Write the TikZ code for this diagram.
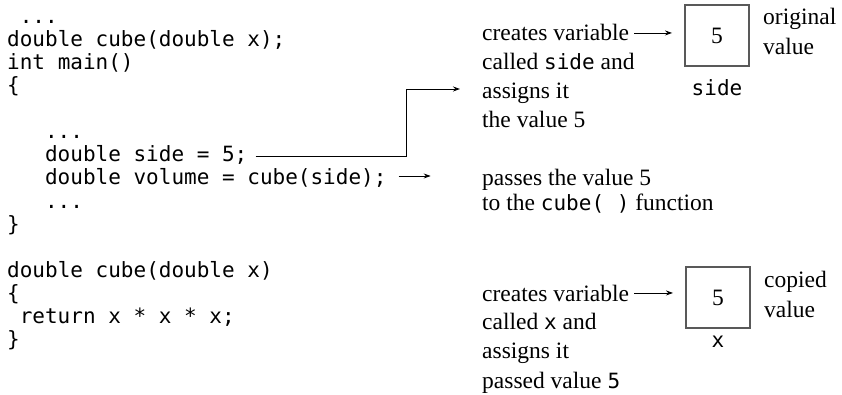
\documentclass[tikz,border=0pt]{standalone}
\usepackage{fontspec}
\setmainfont{Liberation Serif}
\setmonofont{DejaVu Sans Mono}
\usetikzlibrary{arrows.meta,positioning}
\newcommand\codefont{\fontsize{21}{23}\selectfont\ttfamily}
\newcommand\mono[1]{{\fontsize{21}{23}\selectfont\ttfamily #1}}
\tikzset{
codeline/.style={font=\codefont,anchor=base west,inner sep=0pt},
note/.style={font=\fontsize{23.5}{28}\selectfont,anchor=base west,inner sep=0pt},
varbox/.style={draw=black!65,line width=2pt,minimum width=64pt,minimum height=61pt,font=\fontsize{23.5}{28}\selectfont},
link/.style={-{Stealth[length=7pt,width=5pt]},line width=0.9pt}
}

\begin{document}
\begin{tikzpicture}[x=1pt,y=-1pt]
\useasboundingbox (0,0) rectangle (842,395);
% program text
\node[codeline] (c0) at (19.6,24) {...};
\node[codeline] (c1) at (7,47) {double cube(double x);};
\node[codeline] (c2) at (7,70) {int main()};
\node[codeline] (c3) at (7,93) {\{};
\node[codeline] (c5) at (44.9,139) {...};
\node[codeline] (cside) at (44.9,162) {double side = 5;};
\node[codeline] (cvol) at (44.9,185) {double volume = cube(side);};
\node[codeline] (c8) at (44.9,208) {...};
\node[codeline] (c9) at (7,231) {\}};
\node[codeline] (c11) at (7,277) {double cube(double x)};
\node[codeline] (c12) at (7,300) {\{};
\node[codeline] (cret) at (19.6,323) {return x * x * x;};
\node[codeline] (c14) at (7,346) {\}};
% notes
\node[note] (ta1) at (482,41) {creates variable};
\node[note] (ta2) at (482,70) {called \mono{side} and};
\node[note] (ta3) at (482,99) {assigns it};
\node[note] (ta4) at (482,128) {the value 5};
\node[note] (tp1) at (482,186) {passes the value 5};
\node[note] (tp2) at (482,211) {to the \mono{cube(\ )} function};
\node[note] (tb1) at (482,301) {creates variable};
\node[note] (tb2) at (482,329) {called \mono{x} and};
\node[note] (tb3) at (482,358) {assigns it};
\node[note] (tb4) at (482,388) {passed value \mono{5}};
% variables
\node[varbox] (box1) at (717,35.5) {5};
\node[varbox] (box2) at (718,297.5) {5};
\node[codeline,anchor=base] (sidename) at (717,96) {side};
\node[codeline,anchor=base] (xname) at (718,347) {x};
\node[note] (orig1) at (763,25) {original};
\node[note] (orig2) at (763,55) {value};
\node[note] (copy1) at (764,287) {copied};
\node[note] (copy2) at (764,317) {value};
% arrows
\coordinate (sidetip) at (460,89);
\coordinate (passtip) at ([xshift=44pt,yshift=9pt]cvol.base east);
\draw[link] ([xshift=8pt,yshift=6pt]cside.base east) -| (406,89) -- (sidetip);
\draw[link] ([xshift=12pt,yshift=9pt]cvol.base east) -- (passtip);
\draw[link,shorten <=5pt,shorten >=12pt] (ta1.east) -- (ta1.east -| box1.west);
\draw[link,shorten <=5pt,shorten >=12pt] (tb1.east) -- (tb1.east -| box2.west);
\end{tikzpicture}
\end{document}
